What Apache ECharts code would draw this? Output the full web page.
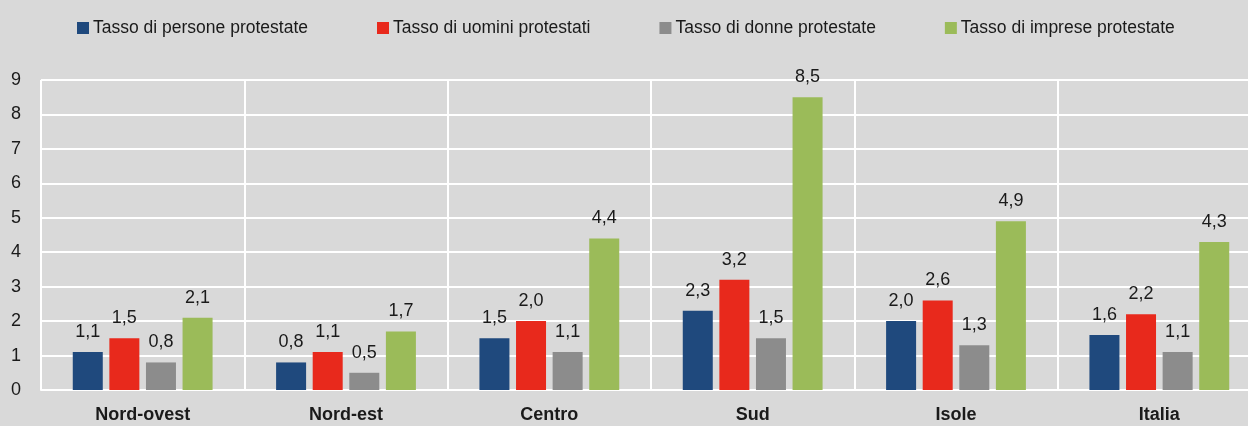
<!DOCTYPE html>
<html>
<head>
<meta charset="utf-8">
<script src="https://cdn.jsdelivr.net/npm/echarts@6/dist/echarts.min.js"></script>
<style>
  html, body { margin: 0; padding: 0; background: #d9d9d9; }
  #chart { width: 1248px; height: 426px; }
</style>
</head>
<body>
<div id="chart"></div>
<script>
// aree geografiche
var aree = ['Nord-ovest', 'Nord-est', 'Centro', 'Sud', 'Isole', 'Italia'];

var persone = [1.1, 0.8, 1.5, 2.3, 2.0, 1.6];
var uomini  = [1.5, 1.1, 2.0, 3.2, 2.6, 2.2];
var donne   = [0.8, 0.5, 1.1, 1.5, 1.3, 1.1];
var imprese = [2.1, 1.7, 4.4, 8.5, 4.9, 4.3];

var nomi = ['Tasso di persone protestate', 'Tasso di uomini protestati',
            'Tasso di donne protestate', 'Tasso di imprese protestate'];
var colori = ['#1f497d', '#e8291c', '#8c8c8c', '#9bbb59'];

var font = 'Liberation Sans';

var myChart = echarts.init(document.getElementById('chart'));

function serie(nome, dati) {
    return {
        name: nome,
        type: 'bar',
        data: dati,
        barWidth: 30,
        barGap: '22%',
        label: {
            show: true,
            position: 'top',
            distance: 11,
            color: '#1a1a1a',
            fontSize: 18,
            fontFamily: font,
            formatter: function (p) { return p.value.toFixed(1).replace('.', ','); }
        }
    };
}

var option = {
    backgroundColor: '#d9d9d9',
    animation: false,
    color: colori,
    textStyle: { fontFamily: font },
    legend: {
        top: 19,
        left: 77,
        padding: 0,
        itemWidth: 12,
        itemHeight: 12,
        itemGap: 69,
        icon: 'rect',
        textStyle: { fontSize: 17.5, fontFamily: font, color: '#1a1a1a', padding: [0, 0, 0, -1] },
        data: nomi
    },
    grid: {
        left: 41,
        top: 80,
        width: 1220,
        height: 310,
        outerBoundsMode: 'none',
        containLabel: false
    },
    xAxis: {
        type: 'category',
        data: aree,
        axisLine: { lineStyle: { color: '#ffffff', width: 2 } },
        axisTick: { show: false },
        splitLine: { show: true, lineStyle: { color: '#ffffff', width: 2 } },
        axisLabel: { fontSize: 18, fontWeight: 'bold', fontFamily: font, color: '#1a1a1a', margin: 16 }
    },
    yAxis: {
        type: 'value',
        min: 0,
        max: 9,
        interval: 1,
        axisLine: { show: false },
        axisTick: { show: false },
        splitLine: { lineStyle: { color: '#ffffff', width: 2 } },
        axisLabel: { fontSize: 18, fontFamily: font, color: '#1a1a1a', margin: 25, align: 'center' }
    },
    series: [
        serie(nomi[0], persone),
        serie(nomi[1], uomini),
        serie(nomi[2], donne),
        serie(nomi[3], imprese)
    ]
};

myChart.setOption(option);
</script>
</body>
</html>
